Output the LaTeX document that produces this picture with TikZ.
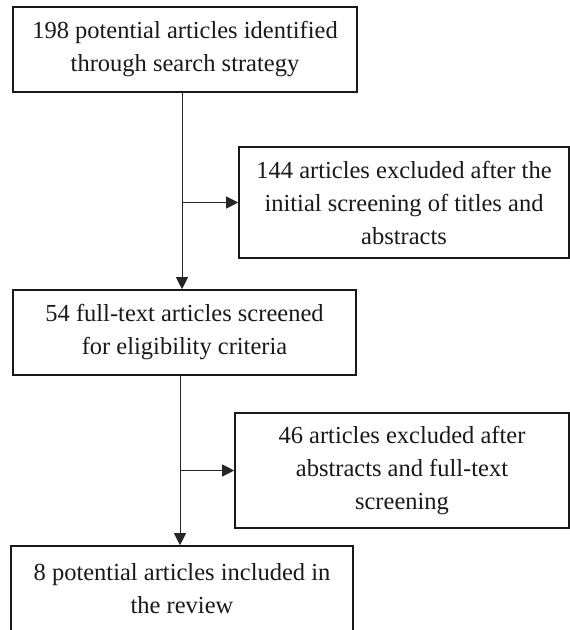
\documentclass[tikz,border=0pt]{standalone}
\usepackage{fontspec}
\setmainfont{Liberation Serif}
\usetikzlibrary{arrows.meta}

\tikzset{
  stagebox/.style={draw=black!90, line width=1.6pt, align=center, inner sep=0pt,
    font=\fontsize{24.5}{33}\selectfont, text=black!90},
  flowline/.style={draw=black!85, line width=0.9pt},
  flowarr/.style={flowline, -{Triangle[length=12pt,width=12pt]}}
}

\begin{document}
\begin{tikzpicture}[x=1pt,y=1pt,yscale=-1,xscale=1]
\useasboundingbox (0,0) rectangle (570,630);

%Shape: Rectangle [id:ident]
\node [stagebox, minimum width=344pt, minimum height=85pt] (ident) at (185,49.5)
  {198 potential articles identified\\through search strategy};
%Shape: Rectangle [id:excl1]
\node [stagebox, minimum width=330pt, minimum height=111pt] (excl1) at (404,202.5)
  {144 articles excluded after the\\initial screening of titles and\\abstracts};
%Shape: Rectangle [id:fulltxt]
\node [stagebox, minimum width=343pt, minimum height=85pt] (fulltxt) at (184.5,332.5)
  {54 full-text articles screened\\for eligibility criteria};
%Shape: Rectangle [id:excl2]
\node [stagebox, minimum width=334pt, minimum height=115pt] (excl2) at (402,470.5)
  {46 articles excluded after\\abstracts and full-text\\screening};
%Shape: Rectangle [id:incl]
\node [stagebox, minimum width=342pt, minimum height=85pt] (incl) at (182,588.5)
  {8 potential articles included in\\the review};

% branch points
\coordinate (jA) at (182,202.5);
\coordinate (jB) at (180,470.5);

%Straight Lines [id:identdown]
\draw [flowarr] (ident.south -| jA) -- (fulltxt.north -| jA);
\draw [flowarr] (jA) -- (excl1.west);
%Straight Lines [id:fulldown]
\draw [flowarr] (fulltxt.south -| jB) -- (incl.north -| jB);
\draw [flowarr] (jB) -- (excl2.west);
\end{tikzpicture}
\end{document}
